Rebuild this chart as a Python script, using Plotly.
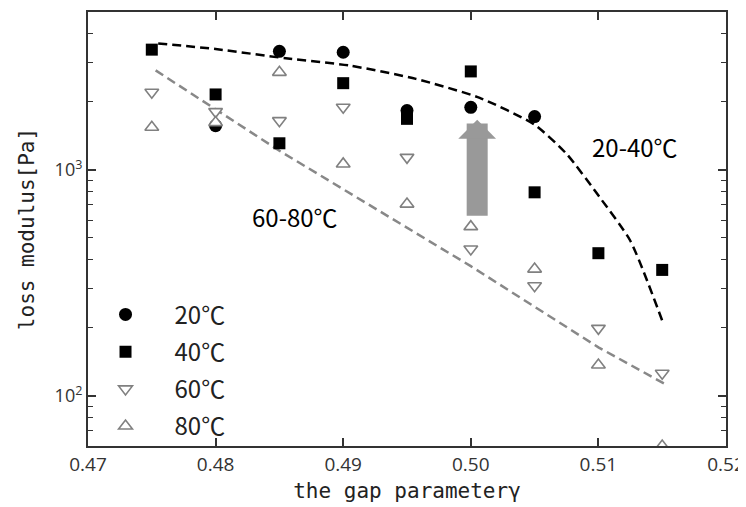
import numpy as np
import plotly.graph_objects as go

# ---- data ----
gamma = [0.475, 0.480, 0.485, 0.490, 0.495, 0.500, 0.505, 0.510, 0.515]

x_20 = [0.480, 0.485, 0.490, 0.495, 0.500, 0.505]
g_20 = [1570, 3350, 3318, 1832, 1893, 1722]

x_40 = gamma
g_40 = [3407, 2158, 1312, 2421, 1683, 2729, 796, 428, 361]

x_60 = gamma
g_60 = [2208, 1812, 1652, 1893, 1137, 447, 307, 199, 126]

x_80 = gamma
g_80 = [1545, 1620, 2703, 1063, 706, 561, 364, 137, 60]

# fitted guide curves
fit_hi_x = [0.4755, 0.4800, 0.4855, 0.4905, 0.4957, 0.5007, 0.5050, 0.5075, 0.5101, 0.5125, 0.5151]
fit_hi_y = [3631, 3428, 3119, 2897, 2529, 2084, 1585, 1178, 757, 486, 208]
fit_lo_x = [0.4753, 0.4850, 0.5000, 0.5100, 0.5152]
fit_lo_y = [2757, 1216, 375, 164, 113]

labels = ["20℃", "40℃", "60℃", "80℃"]
xtick_vals = [0.47, 0.48, 0.49, 0.50, 0.51, 0.52]
ytick_vals = [100, 1000]
ytick_text = ["10<sup>2</sup>", "10<sup>3</sup>"]
yminor_vals = [60, 70, 80, 90, 200, 300, 400, 500, 600, 700, 800, 900, 2000, 3000, 4000, 5000]
y_range = [60, 5000]

arrow_x = 0.5005
arrow_tail = 617
arrow_tip = 1666

note_hi = dict(text="20-40℃", x=0.5129, y=1270)
note_lo = dict(text="60-80℃", x=0.4862, y=625)

# ---- figure ----
gray = "#808080"
fig = go.Figure()

fig.add_trace(go.Scatter(x=fit_hi_x, y=fit_hi_y, mode="lines", showlegend=False,
                         line=dict(color="black", width=2.5, dash="9px,5px", shape="spline",
                                   smoothing=0.6)))
fig.add_trace(go.Scatter(x=fit_lo_x, y=fit_lo_y, mode="lines", showlegend=False,
                         line=dict(color="#888888", width=2.5, dash="9px,5px")))

fig.add_trace(go.Scatter(x=x_20, y=g_20, mode="markers", name=labels[0], legendgroup="a",
                         marker=dict(symbol="circle", size=13, color="black")))
fig.add_trace(go.Scatter(x=x_40, y=g_40, mode="markers", name=labels[1], legendgroup="b",
                         marker=dict(symbol="square", size=12, color="black")))
fig.add_trace(go.Scatter(x=x_60, y=g_60, mode="markers", name=labels[2], legendgroup="c",
                         marker=dict(symbol="triangle-down", size=12, color="white",
                                     line=dict(color=gray, width=1.6))))
fig.add_trace(go.Scatter(x=x_80, y=g_80, mode="markers", name=labels[3], legendgroup="d",
                         marker=dict(symbol="triangle-up", size=12, color="white",
                                     line=dict(color=gray, width=1.6))))

fig.add_annotation(x=arrow_x, y=np.log10(arrow_tip), ax=arrow_x, ay=np.log10(arrow_tail),
                   xref="x", yref="y", axref="x", ayref="y", text="", showarrow=True,
                   arrowhead=1, arrowwidth=21, arrowsize=0.3, arrowcolor="#999999")

for n in (note_hi, note_lo):
    fig.add_annotation(x=n["x"], y=np.log10(n["y"]), text=n["text"], showarrow=False,
                       font=dict(family="Noto Sans CJK JP", size=24, color="black"))

axis_font = dict(family="DejaVu Sans Mono", size=21, color="#222222")
fig.update_layout(
    width=738, height=499,
    margin=dict(l=80, r=20, t=4, b=61),
    paper_bgcolor="white", plot_bgcolor="white",
    legend=dict(x=-0.018, y=0.354, xanchor="left", yanchor="top",
                bgcolor="rgba(0,0,0,0)", itemwidth=88, tracegroupgap=3,
                traceorder="grouped",
                font=dict(family="Noto Sans CJK JP", size=24, color="#222222")),
    xaxis=dict(range=[0.47, 0.52], tickvals=xtick_vals, tickformat=".2f",
               ticks="inside", ticklen=8, tickwidth=1.5, tickcolor="#333333",
               showline=True, linecolor="#333333", linewidth=2, mirror="allticks",
               showgrid=False, zeroline=False, automargin=False,
               tickfont=dict(family="Open Sans", size=19, color="#333333"),
               title=dict(text="the gap parameterγ", font=axis_font, standoff=8)),
    yaxis=dict(type="log", range=[np.log10(y_range[0]), np.log10(y_range[1])],
               tickvals=ytick_vals, ticktext=ytick_text,
               ticks="inside", ticklen=8, tickwidth=1.5, tickcolor="#333333",
               minor=dict(tickvals=yminor_vals, ticks="inside", ticklen=5,
                          tickwidth=1.2, tickcolor="#333333"),
               showline=True, linecolor="#333333", linewidth=2, mirror="allticks",
               showgrid=False, zeroline=False, automargin=False,
               tickfont=dict(family="Open Sans", size=18, color="#333333"),
               title=dict(text="loss modulus[Pa]", font=axis_font, standoff=14)),
)

fig.write_html("out.html")
